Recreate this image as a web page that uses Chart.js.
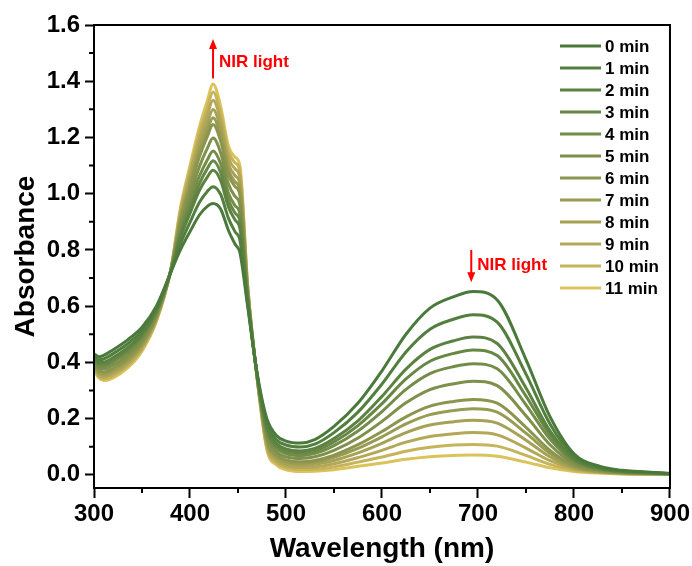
<!DOCTYPE html>
<html>
<head>
<meta charset="utf-8">
<script src="https://cdn.jsdelivr.net/npm/chart.js@4.4.1/dist/chart.umd.min.js"></script>
<style>
    html, body { margin: 0; padding: 0; background: #fff; }
    #wrap { width: 692px; height: 566px; }
</style>
</head>
<body>
<div id="wrap"><canvas id="chart" width="692" height="566"></canvas></div>
<script>
const wavelengths = [300, 305, 310, 320, 335, 350, 365, 380, 390, 400, 410, 418, 424, 432, 440, 447, 452, 460, 470, 480,
    490, 500, 515, 530, 550, 575, 600, 625, 650, 675, 695, 720, 750, 775, 800, 825, 850, 875, 900];

const abs0min = [0.430, 0.420, 0.425, 0.445, 0.480, 0.525, 0.600, 0.720, 0.800, 0.865, 0.925, 0.955, 0.965, 0.945, 0.870, 0.820, 0.790, 0.600, 0.360, 0.200,
    0.140, 0.120, 0.113, 0.125, 0.172, 0.255, 0.370, 0.500, 0.593, 0.634, 0.652, 0.622, 0.410, 0.207, 0.075, 0.032, 0.016, 0.010, 0.005];
const abs1min = [0.421, 0.409, 0.412, 0.431, 0.466, 0.513, 0.592, 0.721, 0.821, 0.898, 0.970, 1.008, 1.025, 0.997, 0.913, 0.864, 0.834, 0.611, 0.357, 0.184,
    0.125, 0.106, 0.099, 0.109, 0.150, 0.223, 0.323, 0.437, 0.518, 0.554, 0.569, 0.543, 0.358, 0.181, 0.066, 0.028, 0.014, 0.009, 0.005];
const abs2min = [0.413, 0.399, 0.400, 0.417, 0.452, 0.501, 0.585, 0.723, 0.842, 0.930, 1.013, 1.059, 1.083, 1.046, 0.953, 0.906, 0.876, 0.622, 0.354, 0.169,
    0.111, 0.092, 0.085, 0.094, 0.129, 0.192, 0.279, 0.376, 0.446, 0.477, 0.490, 0.467, 0.309, 0.156, 0.057, 0.025, 0.012, 0.008, 0.004];
const abs3min = [0.409, 0.393, 0.393, 0.409, 0.444, 0.495, 0.580, 0.724, 0.854, 0.949, 1.037, 1.089, 1.117, 1.075, 0.977, 0.931, 0.901, 0.629, 0.353, 0.161,
    0.103, 0.084, 0.077, 0.085, 0.117, 0.175, 0.253, 0.341, 0.404, 0.432, 0.444, 0.424, 0.280, 0.142, 0.053, 0.023, 0.011, 0.007, 0.004];
const abs4min = [0.404, 0.387, 0.385, 0.401, 0.436, 0.488, 0.576, 0.724, 0.866, 0.969, 1.064, 1.120, 1.152, 1.106, 1.002, 0.957, 0.927, 0.635, 0.351, 0.151,
    0.094, 0.075, 0.068, 0.076, 0.104, 0.156, 0.225, 0.304, 0.360, 0.385, 0.395, 0.377, 0.249, 0.127, 0.047, 0.021, 0.010, 0.006, 0.004];
const abs5min = [0.397, 0.379, 0.376, 0.390, 0.425, 0.478, 0.570, 0.725, 0.882, 0.994, 1.098, 1.161, 1.198, 1.145, 1.035, 0.990, 0.960, 0.644, 0.349, 0.140,
    0.082, 0.064, 0.058, 0.064, 0.087, 0.131, 0.190, 0.256, 0.303, 0.324, 0.333, 0.317, 0.210, 0.107, 0.040, 0.018, 0.009, 0.006, 0.003];
const abs6min = [0.390, 0.371, 0.366, 0.379, 0.414, 0.469, 0.564, 0.727, 0.899, 1.020, 1.133, 1.203, 1.246, 1.186, 1.068, 1.025, 0.995, 0.653, 0.347, 0.127,
    0.071, 0.053, 0.046, 0.051, 0.070, 0.107, 0.154, 0.206, 0.244, 0.261, 0.268, 0.255, 0.169, 0.087, 0.033, 0.015, 0.007, 0.005, 0.003];
const abs7min = [0.387, 0.366, 0.360, 0.373, 0.408, 0.464, 0.561, 0.727, 0.908, 1.033, 1.151, 1.224, 1.270, 1.207, 1.085, 1.042, 1.012, 0.657, 0.346, 0.121,
    0.065, 0.047, 0.041, 0.045, 0.062, 0.094, 0.135, 0.181, 0.214, 0.229, 0.235, 0.223, 0.148, 0.077, 0.030, 0.013, 0.007, 0.004, 0.003];
const abs8min = [0.383, 0.361, 0.354, 0.366, 0.401, 0.458, 0.557, 0.728, 0.918, 1.050, 1.173, 1.250, 1.299, 1.232, 1.106, 1.064, 1.034, 0.663, 0.344, 0.113,
    0.057, 0.040, 0.034, 0.037, 0.051, 0.078, 0.112, 0.150, 0.177, 0.189, 0.194, 0.184, 0.123, 0.064, 0.025, 0.012, 0.006, 0.004, 0.003];
const abs9min = [0.378, 0.355, 0.347, 0.359, 0.394, 0.452, 0.553, 0.729, 0.929, 1.068, 1.197, 1.279, 1.332, 1.260, 1.129, 1.088, 1.058, 0.669, 0.343, 0.105,
    0.049, 0.032, 0.026, 0.028, 0.039, 0.061, 0.087, 0.116, 0.136, 0.146, 0.150, 0.142, 0.095, 0.050, 0.021, 0.010, 0.005, 0.003, 0.002];
const abs10min = [0.374, 0.350, 0.341, 0.352, 0.387, 0.446, 0.549, 0.729, 0.940, 1.085, 1.220, 1.306, 1.362, 1.286, 1.151, 1.110, 1.080, 0.675, 0.341, 0.097,
    0.042, 0.025, 0.019, 0.020, 0.028, 0.045, 0.063, 0.084, 0.098, 0.106, 0.108, 0.102, 0.069, 0.037, 0.016, 0.008, 0.004, 0.003, 0.002];
const abs11min = [0.370, 0.345, 0.335, 0.345, 0.380, 0.440, 0.545, 0.730, 0.950, 1.100, 1.240, 1.330, 1.390, 1.310, 1.170, 1.130, 1.100, 0.680, 0.340, 0.090,
    0.035, 0.018, 0.012, 0.013, 0.018, 0.030, 0.042, 0.055, 0.064, 0.069, 0.070, 0.066, 0.045, 0.025, 0.012, 0.006, 0.003, 0.002, 0.002];

const seriesLabels = ['0 min', '1 min', '2 min', '3 min', '4 min', '5 min', '6 min', '7 min', '8 min', '9 min', '10 min', '11 min'];
const seriesColors = ['#4a7a3b', '#527e3e', '#5c8242', '#678745', '#738c48', '#7f904b',
    '#8b954e', '#989b52', '#a5a155', '#b4a858', '#c6b45a', '#dbc35c'];

const xTicks = [300, 400, 500, 600, 700, 800, 900];
const xMinorTicks = [350, 450, 550, 650, 750, 850];
const yTicks = [0.0, 0.2, 0.4, 0.6, 0.8, 1.0, 1.2, 1.4, 1.6];
const yMinorTicks = [0.1, 0.3, 0.5, 0.7, 0.9, 1.1, 1.3, 1.5];

const FONT = '"Liberation Sans", Arial, sans-serif';
const allSeries = [abs0min, abs1min, abs2min, abs3min, abs4min, abs5min, abs6min, abs7min, abs8min, abs9min, abs10min, abs11min];

const datasets = allSeries.map((vals, i) => ({
    label: seriesLabels[i],
    data: vals.map((v, j) => ({ x: wavelengths[j], y: v })),
    borderColor: seriesColors[i],
    borderWidth: 3,
    pointRadius: 0,
    fill: false,
    cubicInterpolationMode: 'monotone'
}));

function arrow(ctx, x, y1, y2) {
    // shaft from y1 to the head at y2
    const dir = y2 < y1 ? -1 : 1;
    ctx.strokeStyle = '#ff0000';
    ctx.fillStyle = '#ff0000';
    ctx.lineWidth = 2;
    ctx.beginPath();
    ctx.moveTo(x, y1);
    ctx.lineTo(x, y2 - dir * 8);
    ctx.stroke();
    ctx.beginPath();
    ctx.moveTo(x, y2);
    ctx.lineTo(x - 4, y2 - dir * 10);
    ctx.lineTo(x + 4, y2 - dir * 10);
    ctx.closePath();
    ctx.fill();
}

const framePlugin = {
    id: 'frame',
    afterDraw(chart) {
        const { ctx, chartArea: a, scales } = chart;
        const xs = scales.x, ys = scales.y;
        ctx.save();

        // box
        ctx.strokeStyle = '#000';
        ctx.lineWidth = 2;
        ctx.strokeRect(a.left, a.top, a.right - a.left, a.bottom - a.top);

        // minor ticks
        ctx.beginPath();
        xMinorTicks.forEach(v => {
            const px = xs.getPixelForValue(v);
            ctx.moveTo(px, a.bottom);
            ctx.lineTo(px, a.bottom + 5);
        });
        yMinorTicks.forEach(v => {
            const py = ys.getPixelForValue(v);
            ctx.moveTo(a.left, py);
            ctx.lineTo(a.left - 5, py);
        });
        ctx.stroke();

        // legend
        ctx.font = 'bold 17px ' + FONT;
        ctx.textBaseline = 'middle';
        ctx.textAlign = 'left';
        chart.data.datasets.forEach((ds, i) => {
            const y = 46 + i * 22;
            ctx.strokeStyle = ds.borderColor;
            ctx.lineWidth = 3;
            ctx.beginPath();
            ctx.moveTo(560, y);
            ctx.lineTo(601, y);
            ctx.stroke();
            ctx.fillStyle = '#000';
            ctx.fillText(ds.label, 605, y + 1);
        });

        // NIR light markers
        const upX = xs.getPixelForValue(424);
        arrow(ctx, upX, ys.getPixelForValue(1.41), ys.getPixelForValue(1.55));
        const downX = xs.getPixelForValue(693);
        arrow(ctx, downX, ys.getPixelForValue(0.80), ys.getPixelForValue(0.685));
        ctx.fillStyle = '#ff0000';
        ctx.font = 'bold 17px ' + FONT;
        ctx.fillText('NIR light', upX + 6, ys.getPixelForValue(1.467));
        ctx.fillText('NIR light', downX + 6, ys.getPixelForValue(0.745));

        ctx.restore();
    }
};

new Chart(document.getElementById('chart'), {
    type: 'line',
    data: { datasets },
    options: {
        responsive: false,
        animation: false,
        devicePixelRatio: 1,
        layout: { padding: { left: 0, top: 25, right: 21, bottom: 0 } },
        plugins: { legend: { display: false }, tooltip: { enabled: false } },
        scales: {
            x: {
                type: 'linear',
                min: 300,
                max: 900,
                afterFit: scale => { scale.height = 78; },
                afterBuildTicks: scale => { scale.ticks = xTicks.map(v => ({ value: v })); },
                grid: { drawOnChartArea: false, tickLength: 10, tickWidth: 2, tickColor: '#000' },
                border: { display: false },
                ticks: { color: '#000', padding: 2, maxRotation: 0, font: { family: FONT, size: 24, weight: 'bold' } },
                title: { display: true, text: 'Wavelength (nm)', color: '#000', padding: { top: 0, bottom: 0 },
                    font: { family: FONT, size: 28, weight: 'bold' } }
            },
            y: {
                type: 'linear',
                min: -0.047,
                max: 1.6,
                afterFit: scale => { scale.width = 94; },
                afterBuildTicks: scale => { scale.ticks = yTicks.map(v => ({ value: v })); },
                grid: { drawOnChartArea: false, tickLength: 9, tickWidth: 2, tickColor: '#000' },
                border: { display: false },
                ticks: { color: '#000', padding: 5, callback: v => v.toFixed(1), font: { family: FONT, size: 24, weight: 'bold' } },
                title: { display: true, text: 'Absorbance', color: '#000', padding: { top: 9, bottom: 0 },
                    font: { family: FONT, size: 28, weight: 'bold' } }
            }
        }
    },
    plugins: [framePlugin]
});
</script>
</body>
</html>
